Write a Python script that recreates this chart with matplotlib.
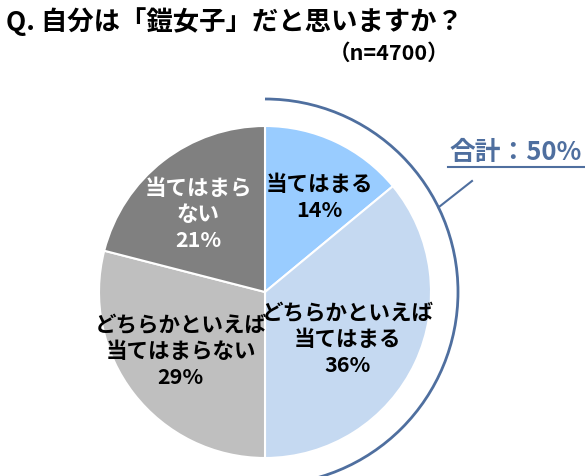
import numpy as np
import matplotlib.pyplot as plt
from matplotlib.patches import Arc

plt.rcParams['font.family'] = ['Noto Sans CJK JP', 'DejaVu Sans']

# survey data
labels = ['当てはまる', 'どちらかといえば\n当てはまる', 'どちらかといえば\n当てはまらない', '当てはまら\nない']
shares = [14, 36, 29, 21]
colors = ['#99ccff', '#c5d9f1', '#bfbfbf', '#808080']
text_colors = ['black', 'black', 'black', 'white']
label_dist = [0.66, 0.57, 0.62, 0.62]
label_turn = [-4.4, -4.3, -3.0, 2.5]
total_label = '合計：50%'
title = 'Q. 自分は「鎧女子」だと思いますか？'
n_label = '（n=4700）'

W, H = 585, 477
fig = plt.figure(figsize=(W / 100, H / 100), dpi=100)
ax = fig.add_axes([0, 0, 1, 1])

cx, cy, R = 265, 184, 166
wedges, _ = ax.pie(shares, colors=colors, startangle=90, counterclock=False,
                   center=(cx, cy), radius=R, frame=True,
                   wedgeprops=dict(edgecolor='white', linewidth=1.5))
ax.set_xlim(0, W)
ax.set_ylim(0, H)
ax.set_aspect('equal')
ax.axis('off')

for w, lab, s, tc, d, t in zip(wedges, labels, shares, text_colors, label_dist, label_turn):
    mid = np.deg2rad((w.theta1 + w.theta2) / 2 + t)
    x = cx + d * R * np.cos(mid)
    y = cy + d * R * np.sin(mid)
    ax.text(x, y, f'{lab}\n{s}%', ha='center', va='center', color=tc,
            fontsize=15.5, fontweight='bold', linespacing=1.3)

# bracket arc over the first two slices
blue = '#4f6f9f'
arc_r = 193
top_share = shares[0] + shares[1]
ax.add_patch(Arc((cx, cy), 2 * arc_r, 2 * arc_r, theta1=90 - top_share / 100 * 360,
                 theta2=90, color=blue, lw=2))
ang = np.deg2rad(26)
x0, y0 = cx + arc_r * np.cos(ang), cy + arc_r * np.sin(ang)
ax.plot([x0, 472], [y0, 295], color=blue, lw=1.5)
ax.plot([448, W], [309, 309], color=blue, lw=1.5)
ax.text(449, 311, total_label, ha='left', va='bottom', color=blue,
        fontsize=18.5, fontweight='bold')

fig.text(6 / W, 1 - 22 / H, title, ha='left', va='center', fontsize=19, fontweight='bold')
fig.text(449 / W, 1 - 53 / H, n_label, ha='right', va='center', fontsize=15.5, fontweight='bold')

fig.savefig('out.png', dpi=100)
